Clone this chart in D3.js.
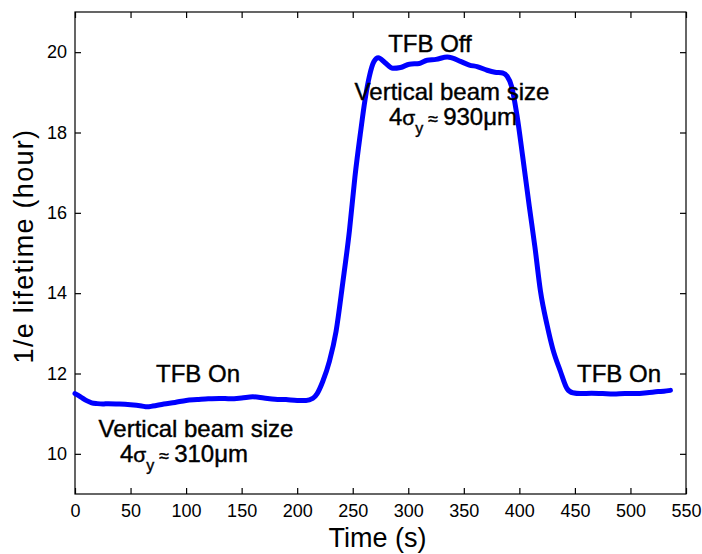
<!DOCTYPE html>
<html>
<head>
<meta charset="utf-8">
<script src="https://cdn.jsdelivr.net/npm/d3@7"></script>
<style>
  html, body { margin: 0; padding: 0; background: #fff; }
  svg { display: block; }
  text { font-family: "Liberation Sans", Arial, Helvetica, sans-serif; fill: #000; }
  .tick text { font-family: "Liberation Sans Narrow", "Liberation Sans", Arial, sans-serif; font-size: 18px; }
  .annot { stroke: #000; stroke-width: 0.4px; }
</style>
</head>
<body>
<svg id="chart" width="702" height="554"></svg>
<script>
// ---- data ----
const timeS = [0, 5, 10, 15, 20, 25, 30, 40, 50, 60, 65, 70, 80, 90, 100, 110, 120, 130, 140, 150,
  160, 170, 180, 190, 200, 208, 214, 218, 223, 229, 235, 241, 247, 252, 257, 261, 265, 269, 273,
  279, 286, 293, 301, 310, 317, 325, 335, 340, 347, 355, 362, 371, 378, 385, 389, 393, 398, 403,
  409, 414, 419, 425, 430, 437, 443, 448, 455, 465, 475, 485, 495, 505, 515, 525, 530, 536];
const lifetimeH = [11.50, 11.42, 11.33, 11.27, 11.25, 11.24, 11.25, 11.24, 11.22, 11.19, 11.17, 11.19,
  11.24, 11.28, 11.33, 11.35, 11.37, 11.38, 11.37, 11.39, 11.42, 11.39, 11.36, 11.35, 11.33, 11.33,
  11.38, 11.50, 11.80, 12.30, 13.05, 14.25, 15.55, 16.90, 18.00, 18.80, 19.40, 19.76, 19.86, 19.74,
  19.60, 19.62, 19.70, 19.72, 19.80, 19.82, 19.88, 19.85, 19.77, 19.68, 19.64, 19.55, 19.50, 19.48,
  19.40, 19.15, 18.40, 17.40, 16.15, 15.15, 14.05, 13.20, 12.62, 12.05, 11.62, 11.52, 11.50, 11.51,
  11.50, 11.49, 11.50, 11.50, 11.52, 11.55, 11.56, 11.58];
const xTicks = [0, 50, 100, 150, 200, 250, 300, 350, 400, 450, 500, 550];
const yTicks = [10, 12, 14, 16, 18, 20];
const xDomain = [0, 550];
const yDomain = [9, 21];
const xLabel = "Time (s)";
const yLabel = "1/e lifetime (hour)";

// ---- layout ----
const svg = d3.select("#chart");
const L = 75, R = 686, T = 12, B = 494;
const x = d3.scaleLinear().domain(xDomain).range([L, R]);
const y = d3.scaleLinear().domain(yDomain).range([B, T]);

// frame
svg.append("rect").attr("x", L).attr("y", T).attr("width", R - L).attr("height", B - T)
  .attr("fill", "none").attr("stroke", "#000").attr("stroke-width", 1.2);

function styleAxis(g) {
  g.select(".domain").remove();
  g.selectAll(".tick line").attr("stroke", "#000").attr("stroke-width", 1.2);
}

svg.append("g").attr("transform", `translate(0,${B})`)
  .call(d3.axisBottom(x).tickValues(xTicks).tickSizeInner(-6).tickSizeOuter(0).tickPadding(10).tickFormat(d3.format("d")))
  .call(styleAxis);
svg.append("g").attr("transform", `translate(0,${T})`)
  .call(d3.axisTop(x).tickValues(xTicks).tickSizeInner(-6).tickSizeOuter(0).tickFormat(""))
  .call(styleAxis);
svg.append("g").attr("transform", `translate(${L},0)`)
  .call(d3.axisLeft(y).tickValues(yTicks).tickSizeInner(-6).tickSizeOuter(0).tickPadding(8).tickFormat(d3.format("d")))
  .call(styleAxis);
svg.append("g").attr("transform", `translate(${R},0)`)
  .call(d3.axisRight(y).tickValues(yTicks).tickSizeInner(-6).tickSizeOuter(0).tickFormat(""))
  .call(styleAxis);

// axis labels
svg.append("text").attr("x", (L + R) / 2 - 3).attr("y", 547).attr("text-anchor", "middle")
  .attr("font-size", 27).text(xLabel);
svg.append("text").attr("transform", `translate(33,${246}) rotate(-90)`).attr("text-anchor", "middle")
  .attr("font-size", 27).attr("letter-spacing", 1.3).text(yLabel);

// curve
const data = timeS.map((t, i) => ({ t, v: lifetimeH[i] }));
svg.append("path").datum(data)
  .attr("fill", "none").attr("stroke", "#0000ff").attr("stroke-width", 5)
  .attr("stroke-linejoin", "round").attr("stroke-linecap", "round")
  .attr("d", d3.line().x(d => x(d.t)).y(d => y(d.v)).curve(d3.curveMonotoneX));

// annotations
function plain(cx, by, s) {
  svg.append("text").attr("class", "annot").attr("x", cx).attr("y", by).attr("text-anchor", "middle")
    .attr("font-size", 24).text(s);
}
function sigma(cx, by, val) {
  const t = svg.append("text").attr("class", "annot").attr("x", cx).attr("y", by).attr("text-anchor", "middle").attr("font-size", 24);
  t.append("tspan").text("4");
  t.append("tspan").attr("font-size", 21).text("σ");
  t.append("tspan").attr("font-size", 16).attr("dy", 9).text("y");
  t.append("tspan").attr("font-size", 18).attr("dy", -9).text(" ≈ ");
  t.append("tspan").text(val + "μm");
}
plain(198, 382, "TFB On");
plain(196, 437, "Vertical beam size");
sigma(184, 462, "310");
plain(430, 52, "TFB Off");
plain(452, 100, "Vertical beam size");
sigma(453, 125, "930");
plain(619, 382, "TFB On");
</script>
</body>
</html>
